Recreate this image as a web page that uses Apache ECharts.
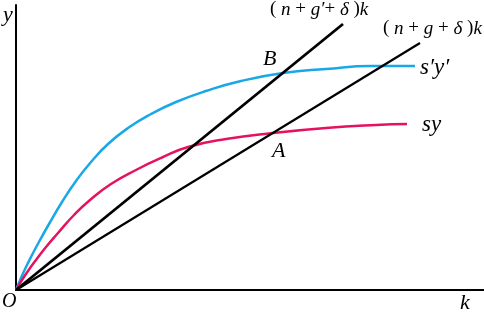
<!DOCTYPE html>
<html><head><meta charset="utf-8">
<script src="https://cdn.jsdelivr.net/npm/echarts@6/dist/echarts.min.js"></script>
<style>html,body{margin:0;padding:0;background:#fff}#c{width:484px;height:314px}</style>
</head><body><div id="c"></div>
<script>
// k values and output values (in chart units)
const blueK = [0, 5, 10, 16, 24, 33, 46, 60, 75, 92, 112, 135, 160, 190, 225, 267, 310, 355, 399];
const blueY = [0, 12, 23, 35, 50, 66, 88, 109, 128, 146, 162, 176, 188, 199, 209, 217, 221, 224, 224];
const pinkK = [0, 6, 12, 20, 30, 42, 58, 74, 95, 120, 145, 172, 210, 257, 310, 360, 391];
const pinkY = [0, 10, 19, 30, 43, 57, 75, 90, 106, 120, 132, 143, 151, 157, 162, 165, 166];
const steepLine = [[0, 0], [327, 266]];
const shallowLine = [[0, 0], [404, 247]];

const zip = (a, b) => a.map((v, i) => [v, b[i]]);
const chart = echarts.init(document.getElementById('c'));
const serif = '"Liberation Serif", "DejaVu Serif", serif';
const txt = (x, y, t, size) => ({type: 'text', left: x, top: y, style: {text: t, font: 'italic ' + size + 'px ' + serif, fill: '#000'}});
const rich = {
  p: {fontFamily: serif, fontSize: 19, fontStyle: 'normal', color: '#000'},
  i: {fontFamily: serif, fontSize: 19, fontStyle: 'italic', color: '#000'}
};
const formula = (x, y, parts) => ({type: 'text', left: x, top: y, style: {text: parts, rich: rich, fill: '#000'}});
chart.setOption({
  animation: false,
  grid: {left: 16, right: 0, top: 5, bottom: 24},
  xAxis: {type: 'value', min: 0, max: 468, axisLine: {lineStyle: {color: '#000', width: 2}}, axisTick: {show: false}, axisLabel: {show: false}, splitLine: {show: false}},
  yAxis: {type: 'value', min: 0, max: 285, axisLine: {show: true, lineStyle: {color: '#000', width: 2}}, axisTick: {show: false}, axisLabel: {show: false}, splitLine: {show: false}},
  series: [
    {type: 'line', data: zip(blueK, blueY), smooth: 0.5, symbol: 'none', lineStyle: {color: '#1aa7e8', width: 2.5}},
    {type: 'line', data: zip(pinkK, pinkY), smooth: 0.5, symbol: 'none', lineStyle: {color: '#e5135f', width: 2.5}},
    {type: 'line', data: steepLine, symbol: 'none', lineStyle: {color: '#000', width: 2.8}},
    {type: 'line', data: shallowLine, symbol: 'none', lineStyle: {color: '#000', width: 2.2}}
  ],
  graphic: [
    txt(3, 4, 'y', 22),
    txt(2, 292, 'O', 20),
    txt(460, 292, 'k', 22),
    txt(263, 48, 'B', 22),
    txt(272, 140, 'A', 22),
    txt(420, 56, 's′y′', 23),
    txt(422, 113, 'sy', 23),
    formula(270, 0, '{p|(}{i| n}{p| + }{i|g′}{p|+}{i| δ}{p| )}{i|k}'),
    formula(383, 19, '{p|(}{i| n}{p| + }{i|g}{p| + }{i|δ}{p| )}{i|k}')
  ]
});
</script></body></html>
